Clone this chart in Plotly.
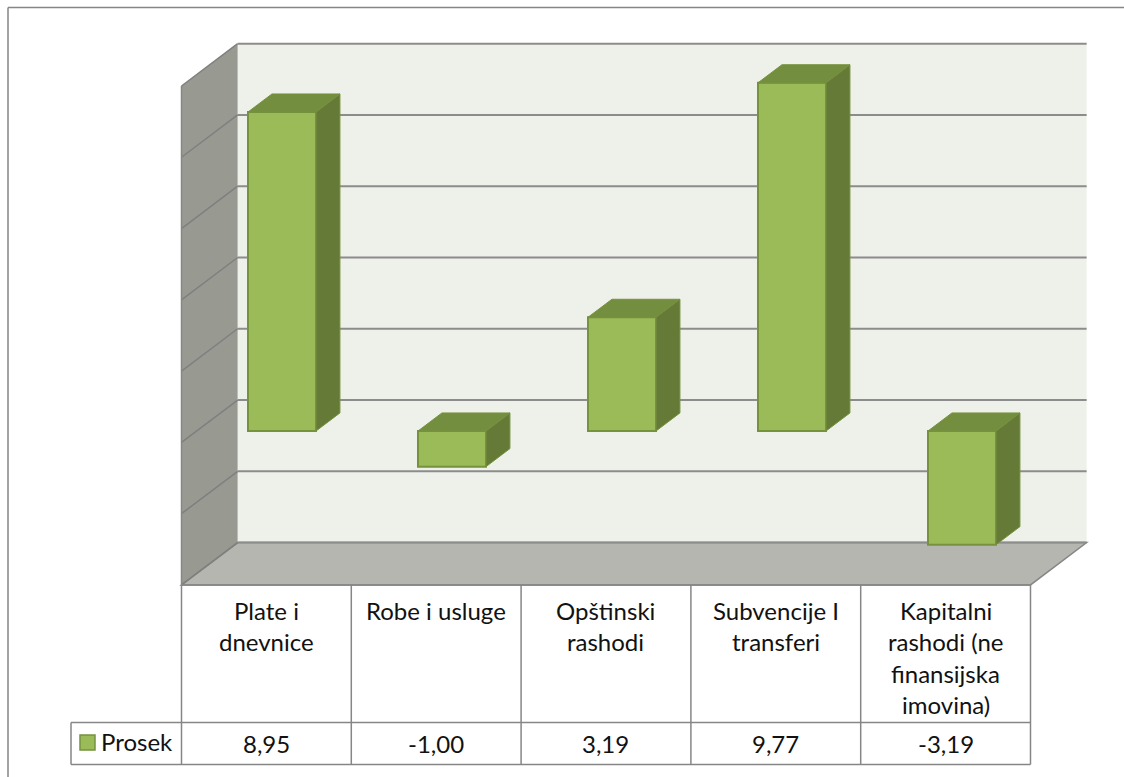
"""Prosek po kategorijama rashoda: Excel-style 3D column chart with a data table."""

import plotly.graph_objects as go

CATEGORIES = [
    ["Plate i", "dnevnice"],
    ["Robe i usluge"],
    ["Opštinski", "rashodi"],
    ["Subvencije I", "transferi"],
    ["Kapitalni", "rashodi (ne", "finansijska", "imovina)"],
]
VALUES = [8.95, -1.00, 3.19, 9.77, -3.19]
SERIES_NAME = "Prosek"
GRID_VALUES = [-4, -2, 0, 2, 4, 6, 8, 10]

WIDTH, HEIGHT = 1124, 777
CAT_PX = 170  # pixels per category
VAL_PX = 35.64  # pixels per value unit
ZERO_X, ZERO_Y = 282, 431  # where first bar centre / value 0 land on the bar's front face

# one full depth of the box, in axis units
DEPTH_X = 57 / CAT_PX
DEPTH_Y = 43 / VAL_PX
FRONT, BACK = -0.265, 0.72  # wall planes relative to the bar front
BAR_DEPTH = 0.42
BAR_W = 0.40

GREEN = "#9BBB59"
GREEN_EDGE = "#76923C"
GREEN_TOP = "#748E40"
GREEN_SIDE = "#657A36"
LINE = "#868686"


def px_x(px):
    return (px - ZERO_X) / CAT_PX


def px_y(px):
    return (ZERO_Y - px) / VAL_PX


def proj(x, v, d):
    return x + d * DEPTH_X, v + d * DEPTH_Y


def path(points):
    return "M" + "L".join(f"{x},{y}" for x, y in points) + "Z"


def line_shape(p0, p1, width=1.5, color=LINE, layer="above"):
    return dict(type="line", x0=p0[0], y0=p0[1], x1=p1[0], y1=p1[1], layer=layer,
                line=dict(color=color, width=width))


n = len(VALUES)
box_left = px_x(196.6)
box_right = px_x(1045.6)
v_min, v_max = GRID_VALUES[0], GRID_VALUES[-1]

shapes = []

# walls and floor
shapes.append(dict(type="path", layer="below", line=dict(width=0), fillcolor="#EEF1EA", path=path([
    proj(box_left, v_min, BACK), proj(box_right, v_min, BACK),
    proj(box_right, v_max, BACK), proj(box_left, v_max, BACK)])))
shapes.append(dict(type="path", layer="below", line=dict(width=0), fillcolor="#989A92", path=path([
    proj(box_left, v_min, FRONT), proj(box_left, v_min, BACK),
    proj(box_left, v_max, BACK), proj(box_left, v_max, FRONT)])))
shapes.append(dict(type="path", layer="below", line=dict(color=LINE, width=1.5), fillcolor="#B4B6AF", path=path([
    proj(box_left, v_min, FRONT), proj(box_right, v_min, FRONT),
    proj(box_right, v_min, BACK), proj(box_left, v_min, BACK)])))

# gridlines run along the left wall, then across the back wall
for v in GRID_VALUES:
    shapes.append(line_shape(proj(box_left, v, FRONT), proj(box_left, v, BACK), 1.5, "#7F7F7F", "below"))
    shapes.append(line_shape(proj(box_left, v, BACK), proj(box_right, v, BACK), 2, "#8C8C8C", "below"))
shapes.append(line_shape(proj(box_left, v_min, FRONT), proj(box_left, v_max, FRONT), 1.5, "#868686", "below"))

# data table
row_top = px_y(585)
row_mid = px_y(722.5)
row_bot = px_y(764.5)
key_left = px_x(71)
table_x0 = proj(box_left, 0, FRONT)[0]
cell_w = (box_right - box_left) / n
table_x1 = table_x0 + n * cell_w
shapes.append(line_shape((table_x0, row_top), (table_x1, row_top)))
shapes.append(line_shape((key_left, row_mid), (table_x1, row_mid)))
shapes.append(line_shape((key_left, row_bot), (table_x1, row_bot)))
shapes.append(line_shape((key_left, row_mid), (key_left, row_bot)))
for i in range(n + 1):
    shapes.append(line_shape((table_x0 + i * cell_w, row_top), (table_x0 + i * cell_w, row_bot)))

# legend key in the table
shapes.append(dict(type="rect", x0=px_x(80), x1=px_x(95), y0=px_y(735), y1=px_y(750),
                   fillcolor=GREEN, line=dict(color=GREEN_EDGE, width=1.5)))

# frame round the whole chart
shapes.append(line_shape((px_x(8), px_y(7.5)), (px_x(WIDTH), px_y(7.5))))
shapes.append(line_shape((px_x(8), px_y(7.5)), (px_x(8), px_y(HEIGHT))))

fig = go.Figure()

# side and top faces of each column
for i, v in enumerate(VALUES):
    left, right = i - BAR_W / 2, i + BAR_W / 2
    hi, lo = max(v, 0), min(v, 0)
    top = [proj(left, hi, 0), proj(right, hi, 0), proj(right, hi, BAR_DEPTH), proj(left, hi, BAR_DEPTH)]
    side = [proj(right, lo, 0), proj(right, hi, 0), proj(right, hi, BAR_DEPTH), proj(right, lo, BAR_DEPTH)]
    for face, color in ((top, GREEN_TOP), (side, GREEN_SIDE)):
        fig.add_trace(go.Scatter(
            x=[p[0] for p in face] + [face[0][0]],
            y=[p[1] for p in face] + [face[0][1]],
            mode="lines",
            fill="toself",
            fillcolor=color,
            line=dict(color=GREEN_EDGE, width=1),
            showlegend=False,
            hoverinfo="skip",
        ))

fig.add_trace(go.Bar(
    x=list(range(n)),
    y=VALUES,
    width=BAR_W,
    name=SERIES_NAME,
    marker=dict(color=GREEN, line=dict(color=GREEN_EDGE, width=2)),
    showlegend=False,
))

# table text
FONT = dict(family="Lato", size=24, color="#111111")
annotations = []
for i, lines in enumerate(CATEGORIES):
    cx = table_x0 + (i + 0.5) * cell_w
    for k, text in enumerate(lines):
        annotations.append(dict(x=cx, y=px_y(610 + k * 31.6), text=text, showarrow=False,
                                xanchor="center", yanchor="middle", font=FONT))
    annotations.append(dict(x=cx, y=px_y(743), text=f"{VALUES[i]:.2f}".replace(".", ","),
                            showarrow=False, xanchor="center", yanchor="middle", font=FONT))
annotations.append(dict(x=px_x(99), y=px_y(741), text=SERIES_NAME, showarrow=False,
                        xanchor="left", yanchor="middle", font=FONT))

fig.update_layout(
    width=WIDTH,
    height=HEIGHT,
    margin=dict(l=0, r=0, t=0, b=0),
    paper_bgcolor="white",
    plot_bgcolor="white",
    showlegend=False,
    shapes=shapes,
    annotations=annotations,
    xaxis=dict(range=[px_x(0), px_x(WIDTH)], visible=False, fixedrange=True),
    yaxis=dict(range=[px_y(HEIGHT), px_y(0)], visible=False, fixedrange=True),
)

fig.write_html(
    "out.html",
    config=dict(displayModeBar=False),
    post_script="document.body.style.margin='0';document.body.style.overflow='hidden';",
)
